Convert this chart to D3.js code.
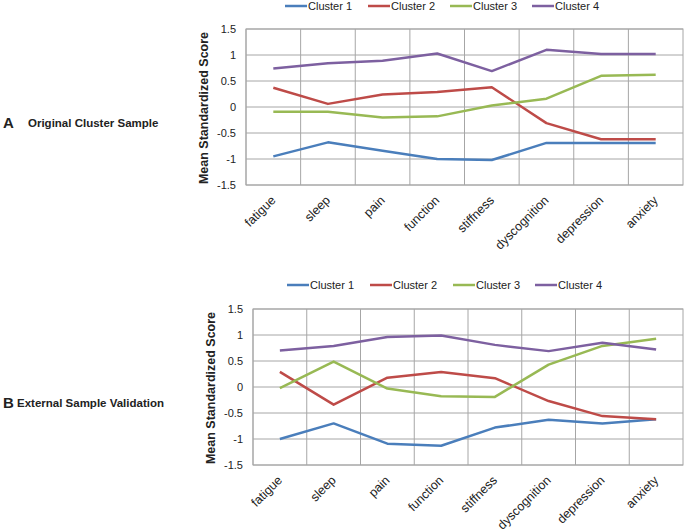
<!DOCTYPE html>
<html><head><meta charset="utf-8">
<script src="https://cdn.jsdelivr.net/npm/d3@7/dist/d3.min.js"></script>
<style>body{margin:0;background:#fff}svg{display:block}text{font-family:"Liberation Sans",Arial,sans-serif}</style>
</head><body>
<svg id="chart" width="685" height="531"></svg>
<script>
const categories = ["fatigue","sleep","pain","function","stiffness","dyscognition","depression","anxiety"];
const seriesNames = ["Cluster 1","Cluster 2","Cluster 3","Cluster 4"];
const seriesColors = ["#4A7EBB","#BE4B48","#98B954","#7D60A0"];
const yTicks = [-1.5,-1,-0.5,0,0.5,1,1.5];

const panelA_c1 = [-0.95,-0.68,-0.84,-1.00,-1.02,-0.69,-0.69,-0.69];
const panelA_c2 = [0.37,0.06,0.24,0.29,0.38,-0.31,-0.62,-0.62];
const panelA_c3 = [-0.09,-0.09,-0.20,-0.18,0.03,0.16,0.60,0.62];
const panelA_c4 = [0.74,0.84,0.89,1.03,0.69,1.10,1.02,1.02];

const panelB_c1 = [-1.00,-0.70,-1.09,-1.13,-0.78,-0.63,-0.70,-0.62];
const panelB_c2 = [0.29,-0.34,0.18,0.29,0.17,-0.27,-0.56,-0.62];
const panelB_c3 = [-0.02,0.49,-0.03,-0.18,-0.19,0.43,0.79,0.93];
const panelB_c4 = [0.70,0.79,0.96,0.99,0.81,0.69,0.85,0.72];

const panels = [
  {letter:"A", title:"Original Cluster Sample", series:[panelA_c1,panelA_c2,panelA_c3,panelA_c4],
   left:246, right:683, top:29, bottom:185, legendY:6, legendX:[285,368,450,532], letterY:128, titleX:28},
  {letter:"B", title:"External Sample Validation", series:[panelB_c1,panelB_c2,panelB_c3,panelB_c4],
   left:253, right:683, top:309, bottom:465, legendY:285, legendX:[287,370,453,535], letterY:408, titleX:17}
];

const svg = d3.select("#chart");

panels.forEach(p => {
  const g = svg.append("g");
  const x = d3.scaleBand().domain(categories).range([p.left, p.right]);
  const y = d3.scaleLinear().domain([-1.5,1.5]).range([p.bottom, p.top]);

  g.append("g").selectAll("line").data(yTicks).join("line")
    .attr("x1", p.left).attr("x2", p.right)
    .attr("y1", d => y(d)).attr("y2", d => y(d))
    .attr("stroke", "#a6a6a6").attr("stroke-width", 1);
  g.append("g").selectAll("line").data(categories).join("line")
    .attr("x1", d => x(d)).attr("x2", d => x(d))
    .attr("y1", p.top).attr("y2", p.bottom)
    .attr("stroke", "#a6a6a6").attr("stroke-width", 1);
  g.append("rect").attr("x", p.left).attr("y", p.top)
    .attr("width", p.right - p.left).attr("height", p.bottom - p.top)
    .attr("fill", "none").attr("stroke", "#a6a6a6");

  const yAxis = d3.axisLeft(y).tickValues(yTicks).tickSize(0).tickPadding(10)
    .tickFormat(d => String(d));
  const ya = g.append("g").attr("transform", `translate(${p.left},0)`).call(yAxis);
  ya.select(".domain").remove();
  ya.selectAll("text").attr("font-size", 11).attr("fill", "#222")
    .style("font-family", '"Liberation Sans",Arial,sans-serif');

  g.append("g").selectAll("text").data(categories).join("text")
    .attr("transform", d => `translate(${x(d) + x.bandwidth()/2 + 3},${p.bottom + 16}) rotate(-45)`)
    .attr("text-anchor", "end").attr("font-size", 12.5).attr("fill", "#222")
    .text(d => d);

  g.append("text")
    .attr("transform", `translate(${p.left - 38},${(p.top + p.bottom)/2 + 1}) rotate(-90)`)
    .attr("text-anchor", "middle").attr("font-size", 12.5).attr("font-weight", "bold")
    .attr("fill", "#222").text("Mean Standardized Score");

  const line = d3.line().x((d,i) => x(categories[i]) + x.bandwidth()/2).y(d => y(d));
  p.series.forEach((s, k) => {
    g.append("path").datum(s).attr("d", line).attr("fill", "none")
      .attr("stroke", seriesColors[k]).attr("stroke-width", 2.5)
      .attr("stroke-linejoin", "round");
  });

  seriesNames.forEach((n, k) => {
    const lx = p.legendX[k];
    g.append("line").attr("x1", lx).attr("x2", lx + 22)
      .attr("y1", p.legendY).attr("y2", p.legendY)
      .attr("stroke", seriesColors[k]).attr("stroke-width", 2.5);
    g.append("text").attr("x", lx + 23).attr("y", p.legendY + 4)
      .attr("font-size", 11).attr("fill", "#222").text(n);
  });

  g.append("text").attr("x", 3).attr("y", p.letterY).attr("font-size", 15)
    .attr("font-weight", "bold").attr("fill", "#222").text(p.letter);
  g.append("text").attr("x", p.titleX).attr("y", p.letterY - 1).attr("font-size", 11.5)
    .attr("font-weight", "bold").attr("fill", "#222").text(p.title);
});
</script>
</body></html>
